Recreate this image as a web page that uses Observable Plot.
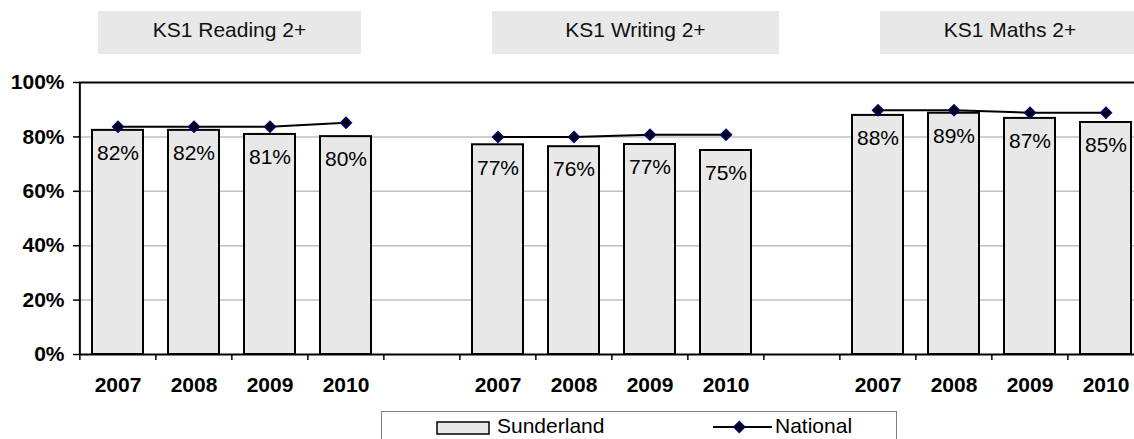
<!DOCTYPE html>
<html>
<head>
<meta charset="utf-8">
<script src="https://cdn.jsdelivr.net/npm/d3@7"></script>
<script src="https://cdn.jsdelivr.net/npm/@observablehq/plot@0.6"></script>
<style>
  html, body { margin: 0; padding: 0; background: #fff; overflow: hidden; }
  #wrap { position: relative; width: 1134px; height: 439px; overflow: hidden; font-family: 'Liberation Sans', Arial, sans-serif; }
  #chart { position: absolute; left: 0; top: 0; }
  .tbox { position: absolute; top: 11px; height: 43px; line-height: 38px; background: #e8e8e8; text-align: center; font-size: 21px; color: #111; }
  .legend { position: absolute; left: 381px; top: 411px; width: 516px; height: 60px; border: 1px solid #808080; box-sizing: border-box; background: #fff; }
  .ltext { position: absolute; top: 407px; line-height: 38px; font-size: 21px; color: #000; white-space: nowrap; }
</style>
</head>
<body>
<div id="wrap">
  <div id="chart"></div>
</div>
<script>
// ---- data ----
const years = ["2007", "2008", "2009", "2010"];
const subjects = ["KS1 Reading 2+", "KS1 Writing 2+", "KS1 Maths 2+"];
const seriesNames = ["Sunderland", "National"];
const sunderlandReading = [0.824, 0.824, 0.809, 0.801];
const sunderlandWriting = [0.771, 0.764, 0.772, 0.750];
const sunderlandMaths   = [0.879, 0.887, 0.868, 0.853];
const nationalReading = [0.837, 0.837, 0.837, 0.852];
const nationalWriting = [0.800, 0.800, 0.808, 0.808];
const nationalMaths   = [0.898, 0.898, 0.889, 0.889];
const yTicks = [0, 0.2, 0.4, 0.6, 0.8, 1];

// ---- build tables ----
const sunderland = [sunderlandReading, sunderlandWriting, sunderlandMaths];
const national = [nationalReading, nationalWriting, nationalMaths];
const domain = [];
const barRows = [];
const natRows = [];
subjects.forEach((s, i) => {
  years.forEach((y, j) => {
    const key = s + "|" + y;
    domain.push(key);
    barRows.push({key, subject: s, year: y, value: sunderland[i][j]});
    natRows.push({key, subject: s, year: y, value: national[i][j]});
  });
  if (i < subjects.length - 1) domain.push("gap" + i);
});

const x0 = 79, x1 = 1147;
const step = (x1 - x0) / domain.length;
const pct = d3.format(".0%");
const font = "'Liberation Sans', Arial, sans-serif";

const chart = Plot.plot({
  width: 1134,
  height: 405,
  marginTop: 82,
  marginBottom: 51,
  marginLeft: 79,
  marginRight: 0,
  style: {fontFamily: font, fontSize: "21px", background: "transparent", overflow: "visible", color: "#000"},
  x: {type: "band", domain, range: [x0, x1], paddingInner: 0.33, paddingOuter: 0.165, align: 0.46, label: null},
  y: {domain: [0, 1], label: null},
  marks: [
    Plot.ruleY(yTicks.filter(d => d > 0 && d < 1), {stroke: "#c0c0c0", strokeWidth: 1.5}),
    Plot.barY(barRows, {x: "key", y: "value", fill: "#e8e8e8", stroke: "#000", strokeWidth: 2}),
    Plot.ruleY([1], {stroke: "#000", strokeWidth: 2}),
    Plot.ruleY([0], {stroke: "#000", strokeWidth: 2}),
    Plot.ruleX([domain[0]], {dx: -step / 2, stroke: "#000", strokeWidth: 2}),
    Plot.axisY({ticks: yTicks, tickFormat: pct, tickSize: 6, tickPadding: 9, fontWeight: "bold", fontSize: 21, strokeWidth: 1.5}),
    Plot.axisX({tickSize: 6, tickFormat: () => "", dx: -step / 2, strokeWidth: 1.5}),
    Plot.axisX({tickSize: 0, tickPadding: 23, fontWeight: "bold", fontSize: 21,
      tickFormat: k => k.includes("|") ? k.split("|")[1] : ""}),
    Plot.line(natRows, {x: "key", y: "value", z: "subject", stroke: "#000", strokeWidth: 2}),
    Plot.dot(natRows, {x: "key", y: "value", symbol: "diamond2", r: 4.9, fill: "#000", stroke: "#000080", strokeWidth: 1.5}),
    Plot.text(barRows, {x: "key", y: "value", text: d => pct(d.value), dy: 23, fontSize: 21, fill: "#000", lineAnchor: "middle"})
  ]
});
document.getElementById("chart").appendChild(chart);

// ---- group title boxes ----
const wrap = document.getElementById("wrap");
const boxes = [{left: 98, width: 263}, {left: 492, width: 287}, {left: 880, width: 260}];
subjects.forEach((s, i) => {
  const b = document.createElement("div");
  b.className = "tbox";
  b.style.left = boxes[i].left + "px";
  b.style.width = boxes[i].width + "px";
  b.textContent = s;
  wrap.appendChild(b);
});

// ---- legend ----
const lg = document.createElement("div");
lg.className = "legend";
wrap.appendChild(lg);
const ns = "http://www.w3.org/2000/svg";
const lsvg = document.createElementNS(ns, "svg");
lsvg.setAttribute("width", 1134);
lsvg.setAttribute("height", 439);
lsvg.style.position = "absolute";
lsvg.style.left = "0";
lsvg.style.top = "0";
lsvg.innerHTML =
  '<rect x="437" y="422" width="52" height="12" fill="#e8e8e8" stroke="#000" stroke-width="1.5"/>' +
  '<line x1="713" x2="772" y1="427" y2="427" stroke="#000" stroke-width="2"/>' +
  '<path d="M739.3,421.5 L744.8,427 L739.3,432.5 L733.8,427 Z" fill="#000" stroke="#000080" stroke-width="1.5"/>';
wrap.appendChild(lsvg);
[[497, seriesNames[0]], [775, seriesNames[1]]].forEach(([left, t]) => {
  const e = document.createElement("div");
  e.className = "ltext";
  e.style.left = left + "px";
  e.textContent = t;
  wrap.appendChild(e);
});
</script>
</body>
</html>
